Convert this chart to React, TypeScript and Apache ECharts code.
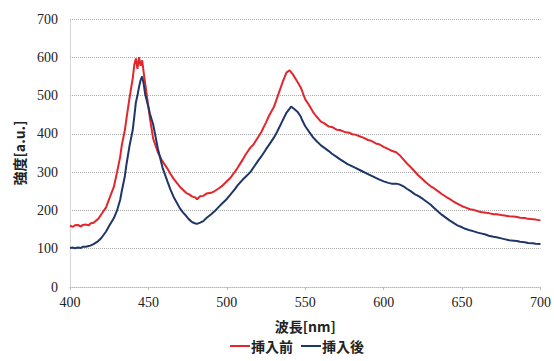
import React, { useEffect, useRef } from "react";
import * as echarts from "echarts";

const seriesNames = ["挿入前", "挿入後"];
const xTicks = [400, 450, 500, 550, 600, 650, 700];
const yTicks = [0, 100, 200, 300, 400, 500, 600, 700];

// [wavelength nm, intensity a.u.]
const beforeData: [number, number][] = [
  [400, 160], [402, 157], [403, 161], [405, 162], [407, 158], [408, 162], [410, 163], [412, 161], [413, 166], [415, 168], [418, 178],
  [420, 190], [423, 208], [425, 230], [428, 262], [430, 300], [432, 340], [433, 370], [435, 410], [436, 440], [438, 495],
  [440, 545], [441, 580], [442, 597], [443, 570], [444, 600], [445, 578], [446, 592], [447, 560],
  [448, 530], [450, 470], [451, 440], [453, 388], [456, 352], [459, 328], [462, 310], [464, 296], [466, 283], [470, 262],
  [474, 246], [476, 242], [478, 236], [480, 234], [481, 229], [483, 237], [485, 238], [487, 244], [490, 246], [492, 250], [495, 258], [497, 264], [500, 276], [502, 284], [505, 300],
  [507, 312], [510, 332], [512, 346], [515, 364], [517, 372], [520, 392], [522, 405], [525, 430], [527, 448], [530, 470], [533, 505], [536, 540], [538, 560],
  [540, 566], [542, 556], [545, 536], [547, 522], [548, 512], [550, 490], [552, 478], [555, 457], [557, 446], [560, 432], [562, 428], [565, 419],
  [567, 418], [570, 411], [572, 410], [575, 405], [578, 403], [580, 399], [582, 398], [585, 393], [587, 390], [590, 384], [592, 382], [595, 375], [597, 373], [600, 366], [603, 360], [605, 356],
  [608, 352], [610, 345], [612, 336], [615, 322], [617, 314], [620, 301], [622, 292], [625, 281], [627, 273], [630, 263], [632, 258], [635, 249], [637, 243], [640, 235], [642, 230], [645, 222],
  [647, 218], [650, 211], [652, 208], [655, 203], [657, 202], [660, 198], [662, 196], [665, 194], [667, 193], [670, 190], [672, 190], [675, 188], [677, 187], [680, 185], [683, 184], [685, 183],
  [687, 181], [690, 180], [692, 178], [695, 177], [697, 176], [700, 174],
];

const afterData: [number, number][] = [
  [400, 102], [402, 103], [403, 101], [405, 103], [407, 102], [408, 105], [410, 105], [412, 107], [413, 108], [415, 112], [418, 120],
  [420, 128], [423, 145], [425, 160], [428, 180], [430, 200], [432, 228], [433, 250], [435, 290], [436, 320], [438, 370],
  [440, 410], [441, 445], [442, 482], [443, 500], [444, 522], [445, 540], [446, 550], [447, 530], [448, 502],
  [450, 470], [451, 452], [453, 425], [456, 362], [459, 312], [462, 277], [464, 255], [466, 236], [470, 206], [472, 195], [474, 186],
  [476, 176], [478, 169], [480, 166], [481, 165], [483, 168], [485, 172], [487, 180], [490, 190], [492, 197], [495, 210], [497, 218], [500, 230], [502, 240], [505, 255], [507, 266], [510, 280],
  [512, 288], [515, 300], [517, 312], [520, 330], [522, 341], [525, 360], [527, 372], [530, 390], [532, 405], [535, 430], [538, 455], [541, 471], [543, 465],
  [545, 458], [547, 446], [548, 436], [550, 420], [552, 408], [555, 391], [557, 382], [560, 370], [562, 364], [565, 355], [567, 348], [570, 340], [572, 334], [575, 326],
  [577, 321], [580, 315], [582, 311], [585, 305], [587, 301], [590, 295], [592, 291], [595, 285], [597, 281], [600, 276], [603, 272], [605, 270], [608, 270], [610, 268], [613, 262],
  [615, 256], [617, 251], [620, 242], [622, 238], [625, 230], [627, 224], [630, 215], [632, 207], [635, 196], [637, 189], [640, 180], [642, 174], [645, 166], [647, 161], [650, 156],
  [652, 152], [655, 148], [657, 146], [660, 142], [662, 140], [665, 137], [667, 134], [670, 131], [672, 130], [675, 127], [677, 125], [680, 122], [683, 121], [685, 120], [687, 118], [690, 117],
  [692, 115], [695, 114], [697, 113], [700, 112],
];

const colors = ["#e3262b", "#1e3668"];

export default function App() {
  const ref = useRef<HTMLDivElement>(null);
  useEffect(() => {
    if (!ref.current) return;
    const chart = echarts.init(ref.current, null, { renderer: "svg" });
    const serif = "Times New Roman";
    const cjk = "Noto Sans CJK JP";
    chart.setOption({
      animation: false,
      backgroundColor: "#ffffff",
      textStyle: { fontFamily: serif },
      grid: { left: 70, right: 13, top: 19, bottom: 74, containLabel: false },
      legend: {
        bottom: 3,
        left: 225,
        itemWidth: 20,
        itemHeight: 2,
        itemGap: 8,
        icon: "rect",
        textStyle: { fontFamily: cjk, fontWeight: "bold", fontSize: 14, color: "#222", padding: [0, 0, 0, -4] },
        data: seriesNames,
      },
      xAxis: {
        type: "value",
        min: xTicks[0],
        max: xTicks[xTicks.length - 1],
        interval: 50,
        name: "波長[nm]",
        nameLocation: "middle",
        nameGap: 32,
        nameTextStyle: { fontFamily: cjk, fontWeight: "bold", fontSize: 14, color: "#222" },
        axisLine: { show: true, lineStyle: { color: "#bbb", type: "dotted", width: 1 } },
        axisTick: { show: true, length: 3, lineStyle: { color: "#bbb" } },
        axisLabel: { fontFamily: serif, fontSize: 14, color: "#222", margin: 8 },
        splitLine: { show: false },
      },
      yAxis: {
        type: "value",
        min: yTicks[0],
        max: yTicks[yTicks.length - 1],
        interval: 100,
        name: "強度[a.u.]",
        nameLocation: "middle",
        nameGap: 42,
        nameTextStyle: { fontFamily: cjk, fontWeight: "bold", fontSize: 14, color: "#222" },
        axisLine: { show: true, lineStyle: { color: "#ccc", type: "dotted", width: 1 } },
        axisTick: { show: false },
        axisLabel: { fontFamily: serif, fontSize: 14, color: "#222", margin: 12 },
        splitLine: { show: true, lineStyle: { color: "#aaa", type: "dotted", width: 1 } },
      },
      series: [
        {
          name: seriesNames[0],
          type: "line",
          data: beforeData,
          showSymbol: false,
          symbol: "none",
          lineStyle: { color: colors[0], width: 2 },
          itemStyle: { color: colors[0] },
        },
        {
          name: seriesNames[1],
          type: "line",
          data: afterData,
          showSymbol: false,
          symbol: "none",
          lineStyle: { color: colors[1], width: 2 },
          itemStyle: { color: colors[1] },
        },
      ],
    });
    return () => chart.dispose();
  }, []);
  return (
    <div
      ref={ref}
      style={{ position: "fixed", left: 0, top: 0, width: 554, height: 361, background: "#fff" }}
    />
  );
}
